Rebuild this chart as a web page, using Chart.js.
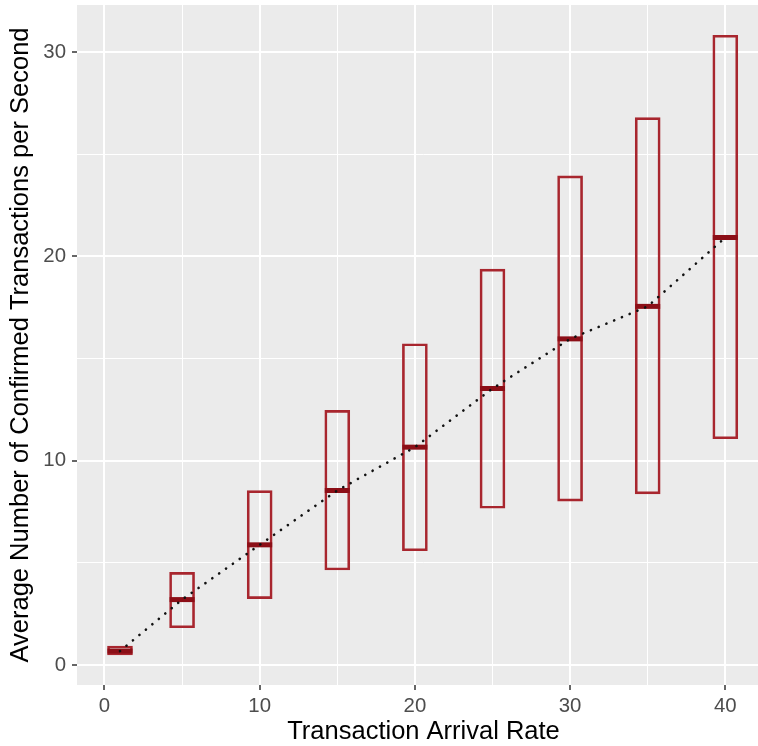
<!DOCTYPE html>
<html>
<head>
<meta charset="utf-8">
<script src="https://cdn.jsdelivr.net/npm/chart.js@4/dist/chart.umd.min.js"></script>
<style>
  html, body { margin: 0; padding: 0; background: #ffffff; overflow: hidden; }
  #wrap { width: 770px; height: 746px; position: relative; }
</style>
</head>
<body>
<div id="wrap"><canvas id="chart"></canvas></div>
<script>
// arrival rates on the x axis
const rates = [1, 5, 10, 15, 20, 25, 30, 35, 40];
// confirmed transactions per second: box bottom, middle bar, box top
const lowValues = [0.49, 1.82, 3.25, 4.65, 5.59, 7.67, 8.02, 8.37, 11.07];
const midValues = [0.68, 3.20, 5.88, 8.54, 10.66, 13.53, 15.96, 17.55, 20.92];
const highValues = [0.93, 4.53, 8.53, 12.46, 15.72, 19.37, 23.94, 26.79, 30.82];

const xTicks = [0, 5, 10, 15, 20, 25, 30, 35, 40];
const xLabels = ['0', '', '10', '', '20', '', '30', '', '40'];
const yTicks = [0, 5, 10, 15, 20, 25, 30];
const yLabels = ['0', '', '10', '', '20', '', '30'];

const boxColor = '#a8262e';
const midColor = '#8c0f17';

Chart.defaults.font.family = "'Liberation Sans', Arial, sans-serif";

// grey ggplot-style panel behind the plot area
const panelBg = {
    id: 'panelBg',
    beforeDraw: (chart) => {
        const { ctx, chartArea: a } = chart;
        ctx.save();
        ctx.fillStyle = '#ebebeb';
        ctx.fillRect(a.left, a.top, a.right - a.left, a.bottom - a.top);
        ctx.restore();
    }
};

const isMajor = (ctx) => ctx.tick && ctx.tick.value % 10 === 0;

const gridOpts = {
    color: '#ffffff',
    offset: false,
    lineWidth: (ctx) => isMajor(ctx) ? 2 : 1,
    tickColor: (ctx) => isMajor(ctx) ? '#333333' : 'rgba(0,0,0,0)',
    tickWidth: 1.5,
    tickLength: 5,
    drawTicks: true
};

new Chart(document.getElementById('chart'), {
    type: 'bar',
    data: {
        datasets: [
            {
                type: 'line',
                data: rates.map((x, i) => ({ x: x, y: midValues[i] })),
                borderColor: '#111111',
                borderWidth: 2.6,
                borderDash: [0.1, 8.3],
                borderCapStyle: 'round',
                pointRadius: 0,
                fill: false,
                tension: 0,
                order: 0
            },
            {
                type: 'scatter',
                data: rates.map((x, i) => ({ x: x, y: midValues[i] })),
                pointStyle: 'line',
                pointRadius: 12.5,
                pointHoverRadius: 12.5,
                borderColor: midColor,
                pointBorderColor: midColor,
                borderWidth: 5,
                pointBorderWidth: 5,
                order: 1
            },
            {
                type: 'bar',
                data: rates.map((x, i) => ({ x: x, y: [lowValues[i], highValues[i]] })),
                backgroundColor: 'rgba(0,0,0,0)',
                borderColor: boxColor,
                borderWidth: 2,
                borderSkipped: false,
                barThickness: 25,
                grouped: false,
                order: 2
            }
        ]
    },
    options: {
        responsive: true,
        maintainAspectRatio: false,
        animation: false,
        layout: { autoPadding: false, padding: { top: 5, right: 0, bottom: 0, left: 0 } },
        plugins: {
            legend: { display: false },
            tooltip: { enabled: false }
        },
        scales: {
            x: {
                type: 'linear',
                offset: false,
                min: -1.77,
                max: 42.88,
                afterBuildTicks: (scale) => { scale.ticks = xTicks.map(v => ({ value: v })); },
                afterFit: (scale) => {
                    scale.height = 61;
                    scale.paddingLeft = 0;
                    scale.paddingRight = 0;
                },
                border: { display: false },
                grid: gridOpts,
                ticks: {
                    color: '#4d4d4d',
                    font: { size: 20.4 },
                    padding: 4,
                    maxRotation: 0,
                    autoSkip: false,
                    callback: (val) => xLabels[xTicks.indexOf(val)] ?? ''
                },
                title: {
                    display: true,
                    text: 'Transaction Arrival Rate',
                    color: '#000000',
                    font: { size: 25.5 },
                    padding: { top: 0, bottom: -1 }
                }
            },
            y: {
                type: 'linear',
                min: -0.98,
                max: 32.3,
                afterBuildTicks: (scale) => { scale.ticks = yTicks.map(v => ({ value: v })); },
                afterFit: (scale) => {
                    scale.width = 77;
                    scale.paddingTop = 0;
                    scale.paddingBottom = 0;
                },
                border: { display: false },
                grid: gridOpts,
                ticks: {
                    color: '#4d4d4d',
                    font: { size: 20.4 },
                    padding: 6,
                    autoSkip: false,
                    callback: (val) => yLabels[yTicks.indexOf(val)] ?? ''
                },
                title: {
                    display: true,
                    text: 'Average Number of Confirmed Transactions per Second',
                    color: '#000000',
                    font: { size: 25.5 },
                    padding: { top: 6, bottom: 0 }
                }
            }
        }
    },
    plugins: [panelBg]
});
</script>
</body>
</html>
